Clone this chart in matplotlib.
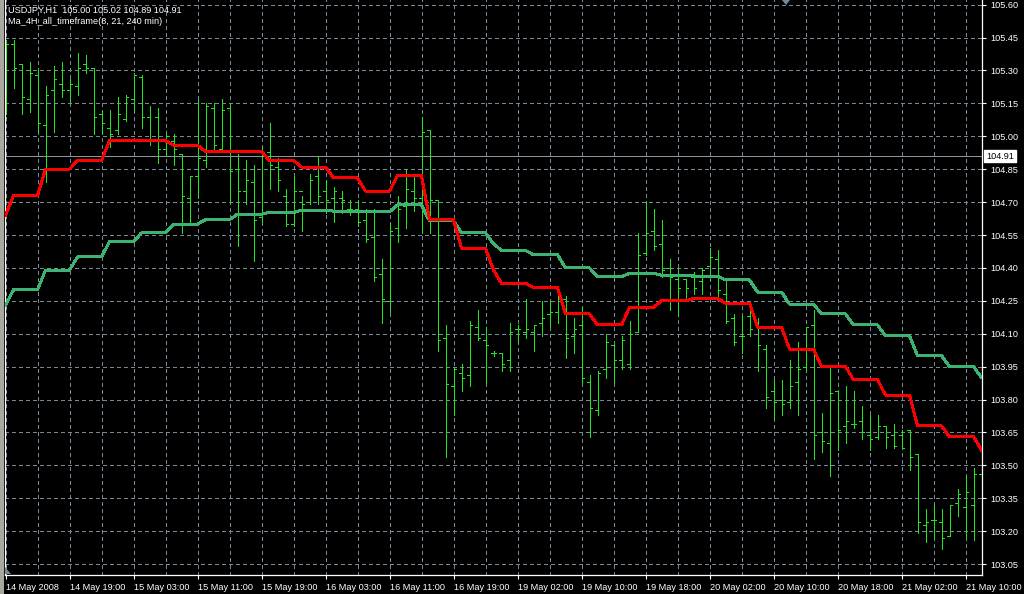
import matplotlib
matplotlib.use("Agg")
import matplotlib.pyplot as plt
import matplotlib.transforms as mtransforms
from matplotlib.patches import Rectangle, Polygon

plt.rcParams['font.family'] = ['Liberation Sans', 'DejaVu Sans']

# ---------------- data (USDJPY H1) ----------------
time_labels = ["14 May 2008", "14 May 19:00", "15 May 03:00", "15 May 11:00",
               "15 May 19:00", "16 May 03:00", "16 May 11:00", "16 May 19:00",
               "19 May 02:00", "19 May 10:00", "19 May 18:00", "20 May 02:00",
               "20 May 10:00", "20 May 18:00", "21 May 02:00", "21 May 10:00"]

highs = [105.44, 105.44, 105.33, 105.34, 105.31, 105.23, 105.32, 105.34, 105.26, 105.38,
         105.37, 105.31, 105.12, 105.12, 105.18, 105.19, 105.29, 105.28, 105.14, 105.13,
         105.02, 105.01, 104.92, 104.82, 105.17, 105.15, 105.15, 105.17, 105.15, 104.92,
         104.89, 104.87, 104.95, 105.06, 104.90, 104.76, 104.82, 104.73, 104.83, 104.91,
         104.80, 104.77, 104.75, 104.71, 104.71, 104.67, 104.67, 104.44, 104.60, 104.73,
         104.85, 104.83, 105.09, 105.03, 104.71, 104.14, 103.95, 103.96, 104.16, 104.21,
         104.13, 104.02, 104.01, 104.15, 104.14, 104.26, 104.14, 104.25, 104.25, 104.30,
         104.27, 104.17, 104.22, 103.91, 103.93, 104.10, 104.05, 104.09, 104.16, 104.56,
         104.70, 104.67, 104.62, 104.44, 104.40, 104.35, 104.38, 104.40, 104.49, 104.48,
         104.34, 104.19, 104.18, 104.22, 104.17, 104.05, 103.89, 103.89, 103.98, 104.06,
         104.13, 104.21, 103.74, 103.95, 103.84, 103.86, 103.84, 103.77, 103.73, 103.73,
         103.68, 103.69, 103.66, 103.66, 103.55, 103.30, 103.32, 103.30, 103.32, 103.39,
         103.45, 103.49, 103.63]

lows = [105.10, 105.22, 105.10, 105.11, 105.02, 104.79, 105.02, 105.18, 105.15, 105.19,
        105.29, 105.01, 105.01, 104.95, 105.01, 105.07, 105.12, 105.04, 104.96, 104.88,
        104.91, 104.87, 104.56, 104.61, 104.72, 104.86, 104.94, 104.94, 104.70, 104.50,
        104.69, 104.43, 104.61, 104.76, 104.75, 104.59, 104.59, 104.57, 104.69, 104.69,
        104.65, 104.61, 104.65, 104.64, 104.59, 104.52, 104.34, 104.15, 104.20, 104.52,
        104.58, 104.66, 104.56, 104.56, 104.02, 103.54, 103.73, 103.84, 103.86, 104.07,
        103.88, 104.00, 103.93, 103.93, 104.06, 104.08, 104.02, 104.09, 104.13, 104.15,
        103.99, 104.01, 103.88, 103.63, 103.73, 103.90, 103.88, 103.94, 103.94, 104.11,
        104.46, 104.48, 104.36, 104.21, 104.18, 104.26, 104.28, 104.28, 104.36, 104.25,
        104.15, 104.05, 104.01, 104.09, 103.93, 103.76, 103.71, 103.73, 103.76, 103.73,
        103.93, 103.53, 103.56, 103.45, 103.57, 103.60, 103.67, 103.62, 103.57, 103.62,
        103.58, 103.58, 103.58, 103.48, 103.19, 103.15, 103.17, 103.12, 103.18, 103.27,
        103.17, 103.16, 103.44]

opens = [105.39, 105.42, 105.33, 105.17, 105.28, 105.05, 105.21, 105.24, 105.21, 105.23,
         105.33, 105.31, 105.10, 105.04, 105.03, 105.08, 105.17, 105.27, 105.09, 105.09,
         104.94, 104.98, 104.92, 104.72, 104.82, 104.89, 105.13, 104.94, 105.13, 104.85,
         104.75, 104.79, 104.63, 104.93, 104.86, 104.73, 104.60, 104.75, 104.70, 104.82,
         104.75, 104.72, 104.72, 104.67, 104.67, 104.62, 104.54, 104.37, 104.25, 104.58,
         104.68, 104.75, 104.72, 105.03, 104.71, 104.08, 103.86, 103.92, 103.91, 104.13,
         104.07, 104.01, 104.01, 103.98, 104.12, 104.11, 104.11, 104.15, 104.19, 104.20,
         104.26, 104.09, 104.14, 103.88, 103.75, 103.94, 104.05, 103.98, 103.96, 104.11,
         104.47, 104.57, 104.51, 104.40, 104.35, 104.35, 104.36, 104.34, 104.41, 104.44,
         104.28, 104.17, 104.09, 104.18, 104.14, 104.03, 103.84, 103.80, 103.79, 103.88,
         103.95, 104.14, 103.65, 103.60, 103.84, 103.68, 103.69, 103.70, 103.64, 103.63,
         103.68, 103.64, 103.64, 103.66, 103.55, 103.23, 103.25, 103.24, 103.18, 103.33,
         103.31, 103.32, 103.46]

closes = [105.42, 105.31, 105.18, 105.29, 105.06, 105.19, 105.26, 105.21, 105.24, 105.31,
          105.31, 105.09, 105.06, 105.01, 105.10, 105.18, 105.28, 105.09, 104.98, 104.94,
          105.00, 104.94, 104.73, 104.82, 104.90, 105.14, 104.96, 105.12, 104.84, 104.75,
          104.80, 104.62, 104.93, 104.87, 104.80, 104.60, 104.75, 104.69, 104.80, 104.73,
          104.71, 104.75, 104.71, 104.67, 104.61, 104.53, 104.36, 104.26, 104.57, 104.67,
          104.76, 104.72, 105.02, 104.71, 104.07, 103.87, 103.94, 103.90, 104.14, 104.08,
          104.05, 104.01, 103.96, 104.11, 104.12, 104.12, 104.14, 104.17, 104.20, 104.26,
          104.08, 104.12, 103.90, 103.76, 103.92, 104.06, 103.98, 104.07, 104.10, 104.46,
          104.56, 104.50, 104.39, 104.36, 104.31, 104.31, 104.31, 104.39, 104.45, 104.30,
          104.16, 104.06, 104.09, 104.12, 104.05, 103.81, 103.79, 103.78, 103.86, 103.94,
          104.13, 103.64, 103.61, 103.83, 103.66, 103.70, 103.69, 103.65, 103.62, 103.68,
          103.63, 103.59, 103.58, 103.54, 103.24, 103.24, 103.25, 103.17, 103.32, 103.37,
          103.38, 103.46, 103.45]

# Ma_4H_all_timeframe(8, 21, 240 min): fast (red) and slow (green) lines, per H1 bar
ma_fast = [104.64, 104.73, 104.73, 104.73, 104.73, 104.85, 104.85, 104.85, 104.85, 104.89,
           104.89, 104.89, 104.89, 104.98, 104.98, 104.98, 104.98, 104.98, 104.98, 104.98,
           104.98, 104.96, 104.96, 104.96, 104.96, 104.93, 104.93, 104.93, 104.93, 104.93,
           104.93, 104.93, 104.93, 104.89, 104.89, 104.89, 104.89, 104.86, 104.86, 104.86,
           104.86, 104.81, 104.81, 104.81, 104.81, 104.75, 104.75, 104.75, 104.75, 104.82,
           104.82, 104.82, 104.82, 104.62, 104.62, 104.62, 104.62, 104.49, 104.49, 104.49,
           104.49, 104.39, 104.33, 104.33, 104.33, 104.33, 104.31, 104.31, 104.31, 104.31,
           104.19, 104.19, 104.19, 104.19, 104.14, 104.14, 104.14, 104.14, 104.22, 104.22,
           104.22, 104.22, 104.25, 104.25, 104.25, 104.25, 104.26, 104.26, 104.26, 104.26,
           104.24, 104.24, 104.24, 104.24, 104.13, 104.13, 104.13, 104.13, 104.03, 104.03,
           104.03, 104.03, 103.95, 103.95, 103.95, 103.95, 103.89, 103.89, 103.89, 103.89,
           103.82, 103.82, 103.82, 103.82, 103.68, 103.68, 103.68, 103.68, 103.63, 103.63,
           103.63, 103.63, 103.57]

ma_slow = [104.23, 104.30, 104.30, 104.30, 104.30, 104.39, 104.39, 104.39, 104.39, 104.45,
           104.45, 104.45, 104.45, 104.52, 104.52, 104.52, 104.52, 104.56, 104.56, 104.56,
           104.56, 104.60, 104.60, 104.60, 104.60, 104.62, 104.62, 104.62, 104.62, 104.645,
           104.645, 104.645, 104.645, 104.653, 104.653, 104.653, 104.653, 104.664, 104.664, 104.664,
           104.664, 104.659, 104.659, 104.659, 104.659, 104.655, 104.655, 104.655, 104.655, 104.687,
           104.687, 104.687, 104.687, 104.615, 104.615, 104.615, 104.615, 104.56, 104.56, 104.56,
           104.56, 104.51, 104.48, 104.48, 104.48, 104.48, 104.46, 104.46, 104.46, 104.46,
           104.40, 104.40, 104.40, 104.40, 104.36, 104.36, 104.36, 104.36, 104.375, 104.375,
           104.375, 104.375, 104.367, 104.367, 104.367, 104.367, 104.363, 104.363, 104.363, 104.363,
           104.345, 104.345, 104.345, 104.345, 104.29, 104.29, 104.29, 104.29, 104.235, 104.235,
           104.235, 104.235, 104.19, 104.19, 104.19, 104.19, 104.14, 104.14, 104.14, 104.14,
           104.09, 104.09, 104.09, 104.09, 104.00, 104.00, 104.00, 104.00, 103.95, 103.95,
           103.95, 103.95, 103.90]

price_ticks = [103.05, 103.20, 103.35, 103.50, 103.65, 103.80, 103.95, 104.10, 104.25,
               104.40, 104.55, 104.70, 104.85, 105.00, 105.15, 105.30, 105.45, 105.60]
bid_price = 104.91
title_line1 = "USDJPY,H1  105.00 105.02 104.89 104.91"
title_line2 = "Ma_4H_all_timeframe(8, 21, 240 min)"

# ---------------- figure ----------------
W, H = 1024, 594
FS = 6.6
fig = plt.figure(figsize=(W / 100, H / 100), dpi=100, facecolor='black')
ax = fig.add_axes([5 / W, 19 / H, 977 / W, 575 / H], facecolor='black')

n = len(highs)
xs = list(range(n))
ax.set_xlim(-0.0625, 122.06)
ax.set_ylim(103.0, 105.6214)

grid_col = '#778899'
bar_col = '#1ee61e'

# grid
ax.set_yticks(price_ticks)
ax.set_yticklabels([f"{p:.2f}" for p in price_ticks])
major_x = list(range(0, n, 8))
minor_x = [i for i in range(4, n, 8)]
ax.set_xticks(major_x)
ax.set_xticklabels(time_labels, ha='left')
ax.set_xticks(minor_x, minor=True)
ax.grid(True, which='both', color=grid_col, linestyle=(0, (3, 3)), linewidth=0.72,
        antialiased=False)
ax.set_axisbelow(True)

# bid line
ax.axhline(bid_price, color='#8c96a0', lw=0.72, antialiased=False, zorder=1)

# OHLC bars
ax.vlines(xs, lows, highs, colors=bar_col, linewidth=0.72, antialiased=False, zorder=2)
ax.hlines(opens, [x - 0.3 for x in xs], xs, colors=bar_col, linewidth=0.72,
          antialiased=False, zorder=2)
ax.hlines(closes, xs, [x + 0.3 for x in xs], colors=bar_col, linewidth=0.72,
          antialiased=False, zorder=2)

# moving averages
ax.plot(xs, ma_slow, color='#3cb371', lw=1.44, antialiased=False, zorder=3)
ax.plot(xs, ma_fast, color='#ff0000', lw=1.44, antialiased=False, zorder=3)

# axes styling
ax.spines['top'].set_visible(False)
for s in ['left', 'right', 'bottom']:
    ax.spines[s].set_color('white')
    ax.spines[s].set_linewidth(0.9)
ax.yaxis.tick_right()
ax.tick_params(axis='y', colors='white', length=3, width=0.8, labelsize=FS, pad=3,
               labelcolor='white')
ax.tick_params(axis='x', which='major', colors='white', length=3, width=0.8,
               labelsize=FS, pad=2.5, labelcolor='white')
ax.tick_params(axis='x', which='minor', length=0)
for lbl in ax.get_yticklabels():
    lbl.set_horizontalalignment('left')

# bid price label box
trans = mtransforms.blended_transform_factory(ax.transAxes, ax.transData)
ax.text(1.0 + 4 / 977, bid_price, f"{bid_price:.2f}", transform=trans, color='black',
        fontsize=FS, va='center', ha='left', zorder=5,
        bbox=dict(boxstyle='square,pad=0.2', facecolor='white', edgecolor='white'))

# header text
fig.text(8 / W, 1 - 10 / H, title_line1, color='white', fontsize=FS, va='center', ha='left')
fig.text(8 / W, 1 - 21 / H, title_line2, color='white', fontsize=FS, va='center', ha='left')

# left window frame strip
fig.patches.append(Rectangle((0, 0), 3.5 / W, 1, transform=fig.transFigure,
                             facecolor='#a8a8a0', edgecolor='none', zorder=0))
# shift markers
fig.patches.append(Polygon([(5 / W, 1 - 567 / H), (5 / W, 1 - 574 / H), (11 / W, 1 - 574 / H)],
                           closed=True, transform=fig.transFigure, facecolor='#778899',
                           edgecolor='none'))
fig.patches.append(Polygon([(782 / W, 1.0), (790 / W, 1.0), (786 / W, 1 - 5 / H)],
                           closed=True, transform=fig.transFigure, facecolor='#778899',
                           edgecolor='none'))

fig.savefig('out.png', dpi=100, facecolor='black')
